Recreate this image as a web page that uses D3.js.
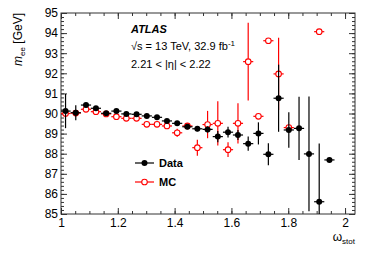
<!DOCTYPE html>
<html>
<head>
<meta charset="utf-8">
<script src="https://cdn.jsdelivr.net/npm/d3@7"></script>
<style>
  body { margin: 0; background: #fff; }
  svg { display: block; font-family: "Liberation Sans", Arial, Helvetica, sans-serif; }
</style>
</head>
<body>
<svg id="chart" width="374" height="255"></svg>
<script>
// bin centres (omega_stot)
var binX = [1.016, 1.052, 1.088, 1.123, 1.159, 1.195, 1.230, 1.266, 1.302, 1.338,
            1.373, 1.409, 1.445, 1.480, 1.516, 1.552, 1.588, 1.623, 1.659, 1.695,
            1.730, 1.766, 1.802, 1.838, 1.873, 1.909, 1.945];
var binHalf = 0.0179;

// data: m_ee and its error (GeV)
var dataY   = [90.12, 90.04, 90.42, 90.26, 90.01, 90.12, 89.98, 89.96, 89.88, 89.81,
               89.63, 89.51, 89.34, 89.24, 89.21, 88.85, 89.07, 88.93, 88.50, 89.01,
               87.97, 90.76, 89.18, 89.26, 87.99, 85.61, 87.69];
var dataErr = [0.85, 0.37, 0.12, 0.10, 0.08, 0.10, 0.08, 0.08, 0.08, 0.10,
               0.10, 0.10, 0.12, 0.12, 0.15, 0.28, 0.27, 0.25, 0.35, 0.55,
               0.55, 1.67, 0.88, 1.57, 2.85, 2.90, 0.05];

// MC: null where the point is off the plot
var mcY   = [90.00, 90.02, 90.21, 90.09, 89.98, 89.84, 89.76, 89.76, 89.46, 89.46,
             89.38, 89.04, 89.38, 88.30, 89.45, 89.51, 88.20, 89.51, 92.58, 89.86,
             93.62, 91.97, 89.30, null, null, 94.07, null];
var mcErr = [0.08, 0.08, 0.08, 0.08, 0.08, 0.08, 0.08, 0.08, 0.10, 0.10,
             0.10, 0.20, 0.15, 0.40, 0.68, 1.10, 0.37, 1.00, 1.93, 0.10,
             0.10, 1.80, 0.10, 0, 0, 0.10, 0];

var yMajor = [85, 86, 87, 88, 89, 90, 91, 92, 93, 94, 95];
var xMajor = [1, 1.2, 1.4, 1.6, 1.8, 2];

var svg = d3.select("#chart");
var x = d3.scaleLinear().domain([1, 2.035]).range([61, 355]);
var y = d3.scaleLinear().domain([85, 95]).range([214, 13]);

var axisCol = "#333";

// minor ticks
var xMinor = d3.range(1, 2.036, 0.05);
var yMinor = d3.range(85, 95.001, 0.2);

function styleAxis(g) {
  g.select(".domain").remove();
  g.selectAll(".tick line").attr("stroke", axisCol);
  g.selectAll(".tick text").attr("fill", "#000");
}

svg.append("g").attr("transform", "translate(0,214)")
  .call(d3.axisBottom(x).tickValues(xMinor).tickSize(-3).tickFormat(""))
  .call(styleAxis);
svg.append("g").attr("transform", "translate(0,13)")
  .call(d3.axisTop(x).tickValues(xMinor).tickSize(-3).tickFormat(""))
  .call(styleAxis);
svg.append("g").attr("transform", "translate(61,0)")
  .call(d3.axisLeft(y).tickValues(yMinor).tickSize(-3).tickFormat(""))
  .call(styleAxis);
svg.append("g").attr("transform", "translate(355,0)")
  .call(d3.axisRight(y).tickValues(yMinor).tickSize(-3).tickFormat(""))
  .call(styleAxis);

// major ticks + labels
svg.append("g").attr("transform", "translate(0,214)")
  .call(d3.axisBottom(x).tickValues(xMajor).tickSize(-6).tickPadding(4)
        .tickFormat(function(d) { return d3.format("~g")(d); }))
  .call(styleAxis)
  .selectAll("text").attr("font-size", 12);
svg.append("g").attr("transform", "translate(0,13)")
  .call(d3.axisTop(x).tickValues(xMajor).tickSize(-6).tickFormat(""))
  .call(styleAxis);
svg.append("g").attr("transform", "translate(61,0)")
  .call(d3.axisLeft(y).tickValues(yMajor).tickSize(-6).tickPadding(3).tickFormat(d3.format("d")))
  .call(styleAxis)
  .selectAll("text").attr("font-size", 12);
svg.append("g").attr("transform", "translate(355,0)")
  .call(d3.axisRight(y).tickValues(yMajor).tickSize(-6).tickFormat(""))
  .call(styleAxis);

// frame
svg.append("rect").attr("x", 61).attr("y", 13).attr("width", 294).attr("height", 201)
  .attr("fill", "none").attr("stroke", axisCol).attr("stroke-width", 1);

var plot = svg.append("g");

// clip points to the frame
svg.append("clipPath").attr("id", "clip")
  .append("rect").attr("x", 61).attr("y", 13).attr("width", 294).attr("height", 201);
plot.attr("clip-path", "url(#clip)");

function drawSeries(vals, errs, col, filled) {
  var pts = binX.map(function(bx, i) { return { x: bx, y: vals[i], e: errs[i] }; })
    .filter(function(d) { return d.y != null; });
  var g = plot.append("g");
  g.selectAll("line.h").data(pts).enter().append("line")
    .attr("x1", function(d) { return x(d.x - binHalf); })
    .attr("x2", function(d) { return x(d.x + binHalf); })
    .attr("y1", function(d) { return y(d.y); })
    .attr("y2", function(d) { return y(d.y); })
    .attr("stroke", col).attr("stroke-width", 1.2);
  g.selectAll("line.v").data(pts).enter().append("line")
    .attr("x1", function(d) { return x(d.x); })
    .attr("x2", function(d) { return x(d.x); })
    .attr("y1", function(d) { return y(d.y - d.e); })
    .attr("y2", function(d) { return y(d.y + d.e); })
    .attr("stroke", col).attr("stroke-width", 1.2);
  g.selectAll("circle").data(pts).enter().append("circle")
    .attr("cx", function(d) { return x(d.x); })
    .attr("cy", function(d) { return y(d.y); })
    .attr("r", filled ? 3 : 2.8)
    .attr("fill", filled ? col : "#fff")
    .attr("stroke", col).attr("stroke-width", filled ? 0 : 1.1);
}

drawSeries(mcY, mcErr, "#f00", false);
drawSeries(dataY, dataErr, "#000", true);

// legend
var legend = [{ label: "Data", col: "#000", filled: true, yy: 163 },
              { label: "MC", col: "#f00", filled: false, yy: 182 }];
legend.forEach(function(l) {
  svg.append("line").attr("x1", 135).attr("x2", 154).attr("y1", l.yy).attr("y2", l.yy)
    .attr("stroke", l.col).attr("stroke-width", 1.2);
  svg.append("circle").attr("cx", 144.5).attr("cy", l.yy).attr("r", l.filled ? 3 : 2.8)
    .attr("fill", l.filled ? l.col : "#fff").attr("stroke", l.col)
    .attr("stroke-width", l.filled ? 0 : 1.1);
  svg.append("text").attr("x", 159).attr("y", l.yy + 4).attr("font-size", 11)
    .attr("font-weight", "bold").text(l.label);
});

// labels
svg.append("text").attr("x", 131).attr("y", 33).attr("font-size", 11)
  .attr("font-weight", "bold").attr("font-style", "italic").text("ATLAS");
var t2 = svg.append("text").attr("x", 131).attr("y", 50).attr("font-size", 11);
t2.append("tspan").text("\u221As = 13 TeV, 32.9 fb");
t2.append("tspan").attr("dy", -4).attr("font-size", 8).text("-1");
svg.append("text").attr("x", 131).attr("y", 68).attr("font-size", 11)
  .text("2.21 < |\u03b7| < 2.22");

var yl = svg.append("text").attr("transform", "translate(22,13) rotate(-90)")
  .attr("text-anchor", "end").attr("font-size", 12);
yl.append("tspan").attr("font-style", "italic").text("m");
yl.append("tspan").attr("font-size", 8).attr("dy", 3).text("ee");
yl.append("tspan").attr("dy", -3).text(" [GeV]");

var xl = svg.append("text").attr("x", 355).attr("y", 241).attr("text-anchor", "end")
  .attr("font-size", 12);
xl.append("tspan").text("\u03c9");
xl.append("tspan").attr("font-size", 8).attr("dy", 3).text("stot");
</script>
</body>
</html>
